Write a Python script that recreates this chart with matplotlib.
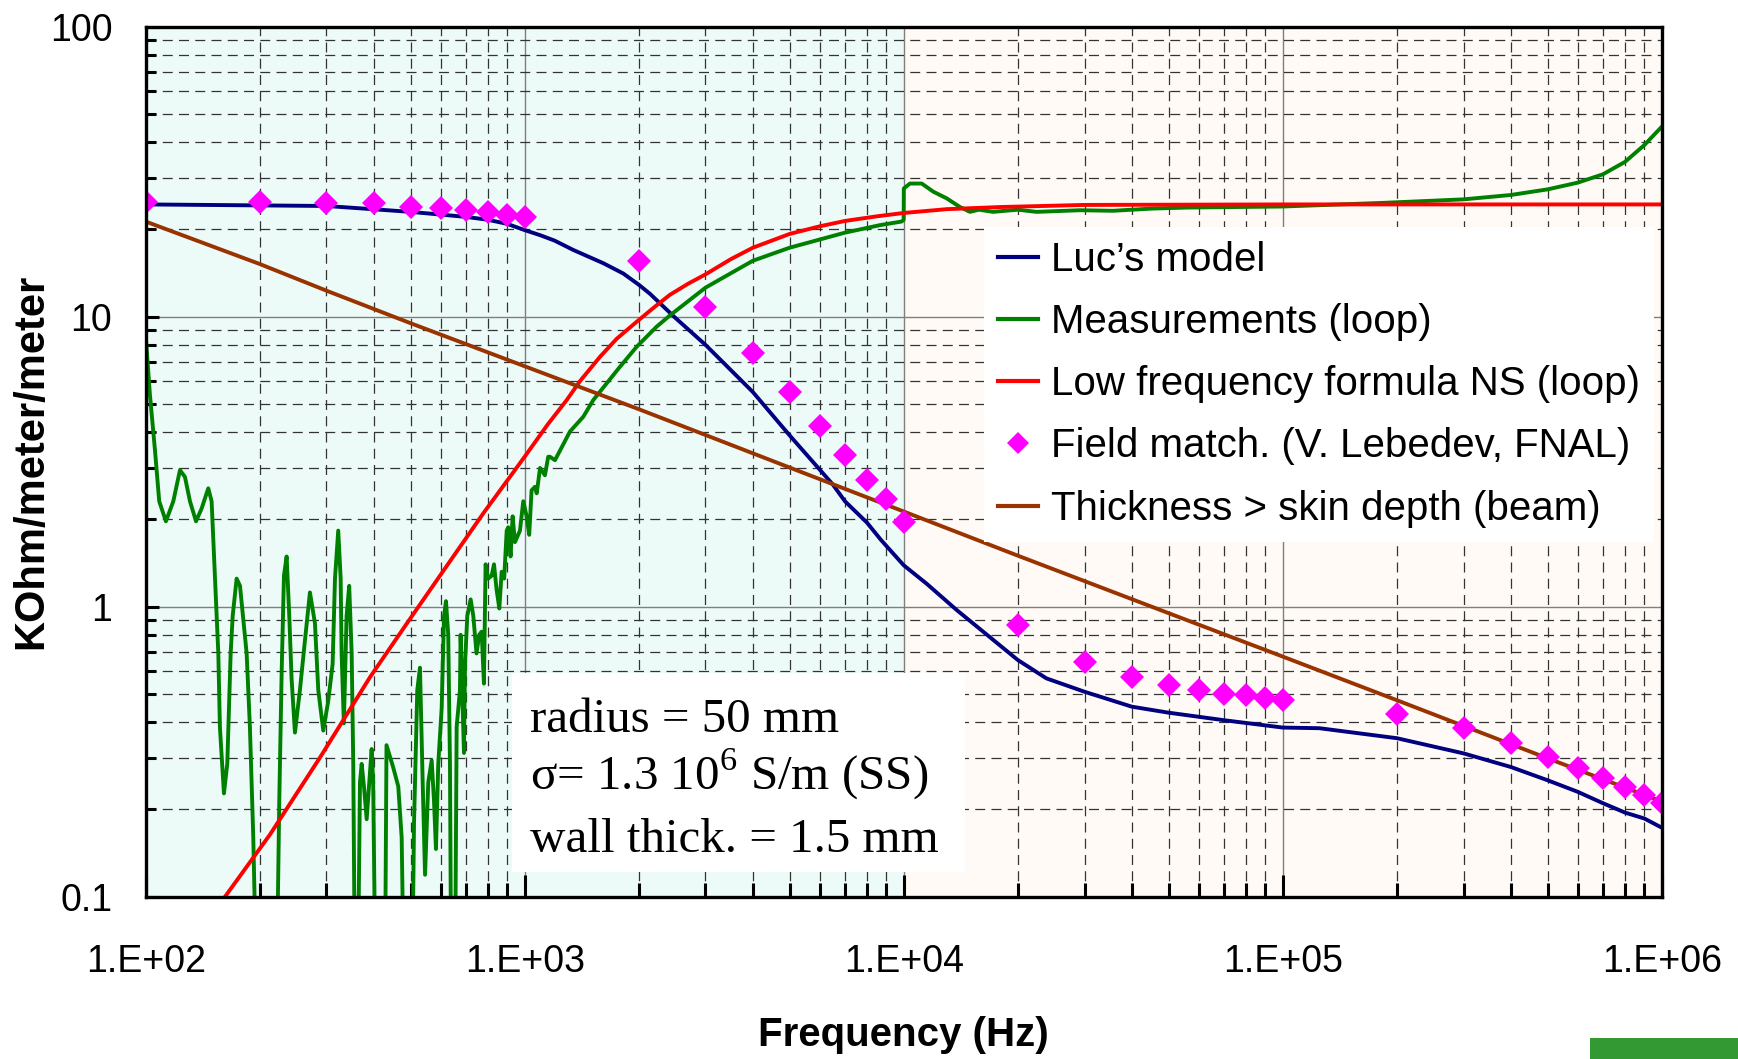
import matplotlib.pyplot as plt
import matplotlib.ticker as ticker
from matplotlib.patches import Rectangle
from matplotlib.lines import Line2D
import numpy as np

plt.rcParams['font.family'] = ['Liberation Sans', 'DejaVu Sans']
plt.rcParams['mathtext.fontset'] = 'custom'
plt.rcParams['mathtext.rm'] = 'Liberation Serif'

# ---- data ----
luc_freq = [100, 300, 500, 700, 800, 900, 1000, 1100, 1200, 1343, 1612, 1820, 2000, 2141,
            2500, 3000, 4000, 5000, 6500, 7000, 8000, 8710, 10000, 11500, 13800, 20000,
            23800, 30000, 40000, 50000, 70000, 100000, 125000, 200000, 300000, 400000,
            500000, 600000, 700000, 800000, 900000, 1000000]
luc_val = [24.4, 24.1, 23.0, 22.1, 21.6, 20.9, 19.9, 19.1, 18.3, 17.0, 15.3, 14.1, 12.9, 12.0,
           9.9, 8.0, 5.5, 3.9, 2.64, 2.31, 1.95, 1.70, 1.39, 1.20, 0.974, 0.655,
           0.566, 0.509, 0.452, 0.431, 0.406, 0.383, 0.381, 0.352, 0.312, 0.280,
           0.252, 0.230, 0.210, 0.195, 0.186, 0.173]

meas_freq = [100, 102.6, 105.8, 108.6, 113.1, 118.3, 123.2, 127, 130.9, 135.8, 140.5, 146.3,
             149.3, 152.4, 155.5, 157, 160.9, 164.2, 167.6, 169.7, 173.8, 177.4, 184.7, 188.4,
             192.3, 196, 221.7, 225.2, 228.5, 231.7, 235.5, 239.3, 242.7, 247.7, 255.3, 263,
             271.3, 279.7, 285.4, 294.2, 303.2, 311.4, 315.9, 322.2, 327, 328.9, 333.4, 339,
             344.4, 349.6, 353, 356.6, 363, 367.7, 371.5, 376.7, 383, 394.7, 398.4, 404, 428,
             432, 450, 464, 473.7, 480, 505, 510.6, 520.8, 529.4, 538.2, 546, 556.8, 568.4,
             576.5, 583.4, 591.6, 604, 612.7, 620, 628.6, 635.2, 640, 655, 661.6, 675, 677.6,
             691.6, 696, 705.8, 720.3, 731.9, 746.5, 758.6, 770, 780.8, 788.7, 801.5, 818.5,
             830, 843.6, 857.4, 869.6, 883, 896.6, 905, 918, 929.5, 942.8, 971.8, 991.6, 1012,
             1028, 1043, 1064, 1076, 1098, 1131, 1154, 1166, 1202, 1239, 1317, 1428, 1517,
             1646, 1784, 1975, 2229, 2416, 3000, 4000, 5000, 7000, 8660, 9880, 10000, 10010,
             10390, 11160, 11970, 12990, 14080, 14960, 15800, 17200, 20000, 22400, 29200,
             35700, 45000, 56000, 100000, 184000, 300000, 400000, 500000, 600000, 700000,
             800000, 900000, 1000000]
meas_val = [8.67, 5.41, 3.48, 2.31, 1.97, 2.31, 2.96, 2.80, 2.31, 1.97, 2.18, 2.56,
            2.31, 1.25, 0.69, 0.385, 0.227, 0.287, 0.69, 0.93, 1.25, 1.18, 0.69, 0.385,
            0.16, 0.05, 0.05, 0.214, 0.598, 1.28, 1.49, 0.93, 0.564, 0.368, 0.516, 0.757,
            1.12, 0.877, 0.516, 0.374, 0.473, 0.634, 1.25, 1.83, 1.25, 0.69, 0.396, 0.93,
            1.18, 0.69, 0.287, 0.05, 0.05, 0.248, 0.287, 0.24, 0.185, 0.323, 0.248, 0.05, 0.05,
            0.333, 0.279, 0.24, 0.16, 0.05, 0.05, 0.18, 0.516, 0.616, 0.248, 0.119, 0.248, 0.295,
            0.214, 0.146, 0.287, 0.447, 0.93, 1.045, 0.80, 0.287, 0.05, 0.05, 0.385, 0.516, 0.80,
            0.313, 0.634, 0.93, 1.06, 0.93, 0.69, 0.80, 0.82, 0.543, 1.40, 1.25, 1.28,
            1.40, 1.14, 0.986, 1.32, 1.25, 1.83, 1.88, 1.49, 2.05, 1.67, 1.83, 2.31, 2.05,
            1.77, 2.52, 2.59, 2.46, 3.01, 2.84, 3.29, 3.29, 3.2, 3.45, 4.02, 4.52, 5.16,
            5.89, 6.72, 7.88, 9.24, 10.1, 12.6, 15.6, 17.3, 19.5, 20.7, 21.3, 21.6, 27.7,
            28.8, 28.8, 27.0, 25.6, 23.9, 23.0, 23.4, 23.0, 23.4, 23.0, 23.3,
            23.2, 23.6, 23.8, 24.0, 24.7, 25.4, 26.3, 27.5, 29.0, 31.0,
            34.2, 39.1, 45.2]

lowf_freq = [150, 162, 213, 288, 391, 489, 598, 778, 1000, 1150, 1291, 1400, 1581, 1750,
             1975, 2200, 2416, 2700, 3000, 3500, 4000, 5000, 6000, 7000, 8500, 10000, 13000,
             18000, 30000, 100000, 1000000]
lowf_val = [0.085, 0.1, 0.164, 0.301, 0.572, 0.876, 1.28, 2.1, 3.29, 4.25, 5.16, 6.0, 7.28, 8.4,
            9.61, 10.8, 11.9, 13.0, 14.0, 15.8, 17.3, 19.3, 20.5, 21.4, 22.2, 22.8, 23.5,
            23.9, 24.3, 24.4, 24.4]

field_freq = [100, 200, 300, 400, 500, 600, 700, 800, 900, 1000, 2000, 3000, 4000, 5000,
              6000, 7000, 8000, 9000, 10000, 20000, 30000, 40000, 50000, 60000, 70000,
              80000, 90000, 100000, 200000, 300000, 400000, 500000, 600000, 700000, 800000,
              900000, 1000000]
field_val = [24.8, 24.8, 24.6, 24.7, 23.9, 23.8, 23.3, 23.0, 22.4, 22.0, 15.6, 10.8, 7.48, 5.51,
             4.19, 3.33, 2.73, 2.35, 1.96, 0.865, 0.643, 0.574, 0.536, 0.516, 0.499,
             0.496, 0.483, 0.476, 0.428, 0.381, 0.338, 0.304, 0.277, 0.256, 0.238,
             0.224, 0.211]

thick_freq = [100, 200, 300, 500, 1000, 2000, 5000, 10000, 20000, 50000, 100000, 200000,
              500000, 1000000]
thick_val = [21.3, 15.2, 12.3, 9.5, 6.75, 4.8, 3.02, 2.13, 1.5, 0.95, 0.673, 0.476,
             0.30, 0.213]

x_ticks = [1e2, 1e3, 1e4, 1e5, 1e6]
x_labels = ['1.E+02', '1.E+03', '1.E+04', '1.E+05', '1.E+06']
y_ticks = [0.1, 1, 10, 100]
y_labels = ['0.1', '1', '10', '100']

info_lines = ['radius = 50 mm', '\u03c3= 1.3 10$^6$ S/m (SS)', 'wall thick. = 1.5 mm']

# ---- figure ----
fig = plt.figure(figsize=(17.38, 10.59), dpi=100)
ax = fig.add_axes([0.0838, 0.1533, 0.8723, 0.8214])
ax.set_xscale('log')
ax.set_yscale('log')
ax.set_xlim(100, 1e6)
ax.set_ylim(0.1, 100)

# shaded backgrounds
ax.axvspan(100, 1e4, color='#edfbf8', zorder=0, lw=0)
ax.axvspan(1e4, 1e6, color='#fffaf5', zorder=0, lw=0)

# grid
ax.set_axisbelow(True)
ax.grid(which='major', color='#7f7f7f', lw=1.0, ls='-', zorder=0.5)
ax.grid(which='minor', color='#333333', lw=0.9, ls=(0, (8, 5)), zorder=0.5)

# curves
lw = 2.8
ax.plot(luc_freq, luc_val, color='#000080', lw=lw, zorder=3)
ax.plot(meas_freq, meas_val, color='#008000', lw=lw, zorder=3)
ax.plot(lowf_freq, lowf_val, color='#ff0000', lw=lw, zorder=3)
ax.plot(field_freq, field_val, ls='none', marker='D', ms=12, mew=0,
        color='#ff00ff', zorder=4)
ax.plot(thick_freq, thick_val, color='#993300', lw=lw, zorder=3)

# ticks
ax.xaxis.set_major_locator(ticker.FixedLocator(x_ticks))
ax.xaxis.set_major_formatter(ticker.FixedFormatter(x_labels))
ax.yaxis.set_major_locator(ticker.FixedLocator(y_ticks))
ax.yaxis.set_major_formatter(ticker.FixedFormatter(y_labels))
ax.xaxis.set_minor_locator(ticker.LogLocator(base=10, subs=np.arange(2, 10), numticks=20))
ax.yaxis.set_minor_locator(ticker.LogLocator(base=10, subs=np.arange(2, 10), numticks=20))
ax.xaxis.set_minor_formatter(ticker.NullFormatter())
ax.yaxis.set_minor_formatter(ticker.NullFormatter())

ax.tick_params(axis='x', which='major', direction='in', length=16, width=2.2,
               labelsize=27, pad=34, top=False)
ax.tick_params(axis='x', which='minor', direction='in', length=10, width=2.2, top=False)
ax.tick_params(axis='y', which='major', direction='in', length=9, width=2.2,
               labelsize=27, pad=24, right=False)
ax.tick_params(axis='y', which='minor', direction='in', length=7, width=2.2, right=False)

for sp in ax.spines.values():
    sp.set_linewidth(2.4)
    sp.set_zorder(5)

ax.set_xlabel('Frequency (Hz)', fontsize=29, fontweight='bold')
ax.xaxis.set_label_coords(0.5, -0.137)
ax.set_ylabel('KOhm/meter/meter', fontsize=30, fontweight='bold', va='center')
ax.yaxis.set_label_coords(-0.0757, 0.5)

# text box with pipe parameters
ax.add_patch(Rectangle((0.2416, 0.0284), 0.2988, 0.2287, transform=ax.transAxes,
                       facecolor='white', edgecolor='none', zorder=1.5))
for line, yb in zip(info_lines, [0.1893, 0.1226, 0.0514]):
    ax.text(0.2535, yb, line, transform=ax.transAxes, fontsize=35.3,
            family='Liberation Serif', va='baseline', ha='left', zorder=2)

# legend
handles = [
    Line2D([], [], color='#000080', lw=3),
    Line2D([], [], color='#008000', lw=3),
    Line2D([], [], color='#ff0000', lw=3),
    Line2D([], [], ls='none', marker='D', ms=11, mew=0, color='#ff00ff'),
    Line2D([], [], color='#993300', lw=3),
]
labels = ['Luc\u2019s model', 'Measurements (loop)', 'Low frequency formula NS (loop)',
          'Field match. (V. Lebedev, FNAL)', 'Thickness > skin depth (beam)']
leg = ax.legend(handles, labels, loc='upper left', bbox_to_anchor=(0.5527, 0.770),
                fontsize=29, frameon=True, fancybox=False, framealpha=1,
                facecolor='white', edgecolor='none', borderpad=0.35,
                handlelength=1.0, handletextpad=0.32, labelspacing=0.6,
                borderaxespad=0)
leg.set_zorder(6)

# green logo strip bottom right
fig.patches.append(Rectangle((1590 / 1738, 0), 148 / 1738, 21 / 1059,
                             transform=fig.transFigure, facecolor='#339933',
                             edgecolor='none'))

fig.savefig('out.png', dpi=100)
